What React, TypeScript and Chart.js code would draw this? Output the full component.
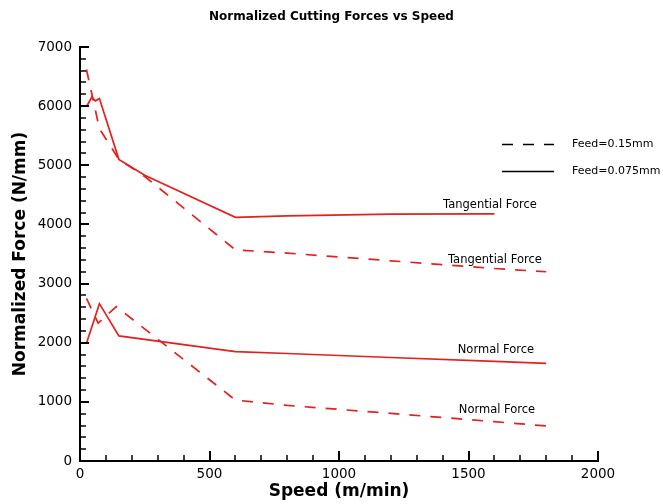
import React, { useEffect, useRef } from 'react';
import { Chart, registerables } from 'chart.js';

Chart.register(...registerables);

// ---- text ----
const TITLE = 'Normalized Cutting Forces vs Speed';
const X_TITLE = 'Speed (m/min)';
const Y_TITLE = 'Normalized Force (N/mm)';
const LEGEND_LABELS = ['Feed=0.15mm', 'Feed=0.075mm'];

// ---- axes ----
const X_MIN = 0;
const X_MAX = 2000;
const X_STEP = 500;
const X_MINOR = 100;
const Y_MIN = 0;
const Y_MAX = 7000;
const Y_STEP = 1000;
const Y_MINOR = 200;

// ---- data (speed m/min, force N/mm) ----
// Tangential force, feed 0.075 mm (solid)
const tanFineSpeed = [25, 45, 60, 75, 150, 250, 600, 800, 1200, 1600];
const tanFineForce = [5990, 6150, 6090, 6130, 5100, 4830, 4120, 4145, 4175, 4180];
// Tangential force, feed 0.15 mm (dashed)
const tanCoarseSpeed = [25, 75, 150, 250, 600, 800, 1200, 1600, 1800];
const tanCoarseForce = [6620, 5620, 5100, 4810, 3570, 3515, 3385, 3255, 3200];
// Normal force, feed 0.075 mm (solid)
const normFineSpeed = [25, 75, 150, 600, 800, 1200, 1600, 1800];
const normFineForce = [1990, 2660, 2115, 1850, 1818, 1750, 1683, 1650];
// Normal force, feed 0.15 mm (dashed)
const normCoarseSpeed = [25, 70, 140, 600, 800, 1200, 1600, 1800];
const normCoarseForce = [2750, 2330, 2610, 1030, 940, 805, 665, 592];

// curve annotations (text, anchored in data units)
const CURVE_LABELS = ['Tangential Force', 'Tangential Force', 'Normal Force', 'Normal Force'];
const CURVE_LABEL_SPEED = [1583, 1602, 1606, 1610];
const CURVE_LABEL_FORCE = [4332, 3401, 1878, 863];

const RED = '#e3211f';
const DASH = [11, 10];

const toPoints = (xs: number[], ys: number[]) => xs.map((x, i) => ({ x, y: ys[i] }));

const decorPlugin = {
  id: 'decor',
  afterDraw(chart: any) {
    const { ctx } = chart;
    const x = chart.scales.x;
    const y = chart.scales.y;
    const left = chart.chartArea.left;
    const bottom = chart.chartArea.bottom;
    ctx.save();
    ctx.strokeStyle = '#000';
    ctx.setLineDash([]);
    // inward y ticks
    for (let v = Y_MIN; v <= Y_MAX; v += Y_MINOR) {
      const major = v % Y_STEP === 0;
      const py = Math.round(y.getPixelForValue(v));
      ctx.lineWidth = major ? 2 : 1.5;
      ctx.beginPath();
      ctx.moveTo(left, py);
      ctx.lineTo(left + (major ? 9 : 6), py);
      ctx.stroke();
    }
    // inward x ticks
    for (let v = X_MIN; v <= X_MAX; v += X_MINOR) {
      const major = v % X_STEP === 0;
      const px = Math.round(x.getPixelForValue(v));
      ctx.lineWidth = major ? 2 : 1.5;
      ctx.beginPath();
      ctx.moveTo(px, bottom);
      ctx.lineTo(px, bottom - (major ? 10 : 6));
      ctx.stroke();
    }
    // legend
    ctx.font = '11px "DejaVu Sans"';
    ctx.fillStyle = '#000';
    ctx.textBaseline = 'middle';
    ctx.textAlign = 'left';
    const legY = [144.5, 171.5];
    LEGEND_LABELS.forEach((label, i) => {
      ctx.lineWidth = 1.6;
      ctx.setLineDash(i === 0 ? DASH : []);
      ctx.beginPath();
      ctx.moveTo(502, legY[i]);
      ctx.lineTo(554, legY[i]);
      ctx.stroke();
      ctx.setLineDash([]);
      ctx.fillText(label, 572, legY[i]);
    });
    // curve labels
    ctx.font = '11.5px "DejaVu Sans"';
    ctx.textAlign = 'center';
    CURVE_LABELS.forEach((label, i) => {
      ctx.fillText(label, x.getPixelForValue(CURVE_LABEL_SPEED[i]), y.getPixelForValue(CURVE_LABEL_FORCE[i]));
    });
    ctx.restore();
  },
};

export default function App() {
  const ref = useRef<HTMLCanvasElement | null>(null);
  useEffect(() => {
    if (!ref.current) return;
    const mk = (label: string, xs: number[], ys: number[], dashed: boolean) => ({
      label,
      data: toPoints(xs, ys),
      borderColor: RED,
      backgroundColor: RED,
      borderWidth: 1.7,
      borderDash: dashed ? DASH : [],
      pointRadius: 0,
      tension: 0,
      fill: false,
    });
    const chart = new Chart(ref.current, {
      type: 'line',
      data: {
        datasets: [
          mk('Tangential 0.075', tanFineSpeed, tanFineForce, false),
          mk('Tangential 0.15', tanCoarseSpeed, tanCoarseForce, true),
          mk('Normal 0.075', normFineSpeed, normFineForce, false),
          mk('Normal 0.15', normCoarseSpeed, normCoarseForce, true),
        ],
      },
      options: {
        animation: false,
        responsive: false,
        layout: { padding: 0 },
        plugins: {
          legend: { display: false },
          tooltip: { enabled: false },
          title: {
            display: true,
            text: TITLE,
            color: '#000',
            font: { family: 'DejaVu Sans', size: 12, weight: 'bold' },
            padding: { top: 10, bottom: 22.6 },
          },
        },
        scales: {
          x: {
            type: 'linear',
            min: X_MIN,
            max: X_MAX,
            grid: { display: false, drawTicks: false },
            border: { display: true, color: '#000', width: 2 },
            ticks: {
              stepSize: X_STEP,
              color: '#000',
              padding: 5,
              maxRotation: 0,
              font: { family: 'DejaVu Sans', size: 13.5 },
              callback: (v: any) => String(v),
            },
            title: {
              display: true,
              text: X_TITLE,
              color: '#000',
              font: { family: 'DejaVu Sans', size: 17, weight: 'bold' },
              padding: { top: 0, bottom: 2 },
            },
            afterFit: (s: any) => { s.height = 43; },
          },
          y: {
            type: 'linear',
            position: 'left',
            min: Y_MIN,
            max: Y_MAX,
            grid: { display: false, drawTicks: false },
            border: { display: true, color: '#000', width: 2 },
            ticks: {
              stepSize: Y_STEP,
              color: '#000',
              padding: 8,
              font: { family: 'DejaVu Sans', size: 13.5 },
              callback: (v: any) => String(v),
            },
            title: {
              display: true,
              text: Y_TITLE,
              color: '#000',
              font: { family: 'DejaVu Sans', size: 17, weight: 'bold' },
              padding: { top: 10, bottom: 0 },
            },
            afterFit: (s: any) => { s.width = 80; },
          },
          y2: {
            type: 'linear',
            position: 'right',
            display: true,
            grid: { display: false, drawTicks: false },
            border: { display: false },
            ticks: { display: false },
            afterFit: (s: any) => { s.width = 65; },
          },
        },
      },
      plugins: [decorPlugin],
    });
    return () => chart.destroy();
  }, []);
  return (
    <div style={{ position: 'fixed', left: 0, top: 0, width: 663, height: 504, background: '#fff' }}>
      <canvas ref={ref} width={663} height={504} />
    </div>
  );
}
